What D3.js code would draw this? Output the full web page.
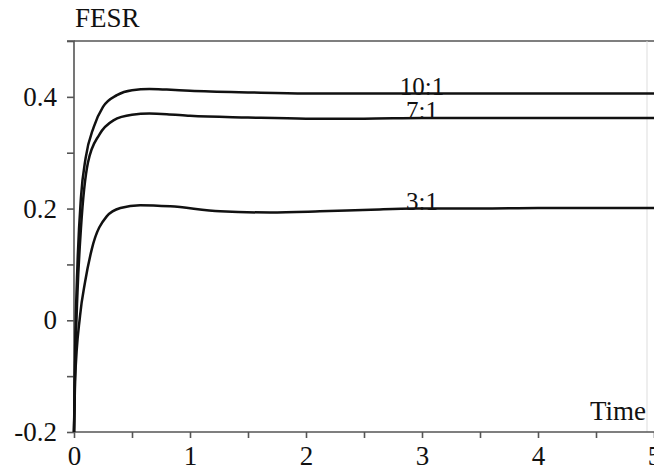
<!DOCTYPE html>
<html>
<head>
<meta charset="utf-8">
<script src="https://cdn.jsdelivr.net/npm/d3@7"></script>
<style>
  html, body { margin: 0; padding: 0; background: #fff; }
  svg { display: block; }
  svg text { font-family: "Liberation Serif", "Times New Roman", Times, "DejaVu Serif", serif !important; fill: #111; }
</style>
</head>
<body>
<svg id="chart" width="654" height="471"></svg>
<script>
// Response curves of FESR over time for three ratios
const seriesNames = ["10:1", "7:1", "3:1"];

const time10 = [0, 0.01, 0.03, 0.06, 0.1, 0.17, 0.25, 0.37, 0.5, 0.65, 0.8, 1.0, 1.5, 2, 2.5, 3, 4, 5];
const fesr10 = [-0.2, -0.05, 0.1, 0.22, 0.29, 0.346, 0.382, 0.403, 0.412, 0.414, 0.413, 0.411, 0.408, 0.406, 0.406, 0.406, 0.406, 0.406];

const time7 = [0, 0.01, 0.03, 0.06, 0.12, 0.22, 0.34, 0.5, 0.65, 0.8, 1.0, 1.5, 2, 2.5, 3, 4, 5];
const fesr7 = [-0.2, -0.08, 0.05, 0.165, 0.282, 0.333, 0.358, 0.368, 0.37, 0.369, 0.366, 0.363, 0.361, 0.361, 0.362, 0.362, 0.362];

const time3 = [0, 0.009, 0.052, 0.095, 0.153, 0.282, 0.4, 0.57, 0.83, 1.26, 1.69, 2.12, 2.56, 2.93, 3, 3.5, 4, 5];
const fesr3 = [-0.2, -0.11, 0.008, 0.068, 0.127, 0.186, 0.201, 0.206, 0.204, 0.195, 0.193, 0.195, 0.198, 0.2, 0.2, 0.2, 0.201, 0.201];

const xTicks = [0, 0.5, 1, 1.5, 2, 2.5, 3, 3.5, 4, 4.5, 5];
const xTickLabels = ["0", "", "1", "", "2", "", "3", "", "4", "", "5"];
const yTicks = [-0.2, -0.1, 0, 0.1, 0.2, 0.3, 0.4, 0.5];
const yTickLabels = ["-0.2", "", "0", "", "0.2", "", "0.4", ""];

const serif = '"Liberation Serif", "Times New Roman", Times, "DejaVu Serif", serif';
const svg = d3.select("#chart");
const plotLeft = 74, plotRight = 654, plotTop = 41, plotBottom = 432;

const x = d3.scaleLinear().domain([0, 5]).range([plotLeft, plotRight]);
const y = d3.scaleLinear().domain([-0.2, 0.5]).range([plotBottom, plotTop]);

const axisColor = "#555";

// frame: top edge and faint right edge
svg.append("line")
  .attr("x1", plotLeft).attr("x2", plotRight).attr("y1", plotTop).attr("y2", plotTop)
  .attr("stroke", axisColor).attr("stroke-width", 1.6);
svg.append("line")
  .attr("x1", 647).attr("x2", 647).attr("y1", plotTop).attr("y2", plotBottom)
  .attr("stroke", "#ddd").attr("stroke-width", 1);

// y axis
const yAxis = svg.append("g")
  .attr("transform", `translate(${plotLeft},0)`)
  .call(d3.axisLeft(y).tickValues(yTicks).tickSize(7).tickPadding(10)
    .tickFormat((d, i) => yTickLabels[i]));

// x axis
const xAxis = svg.append("g")
  .attr("transform", `translate(0,${plotBottom})`)
  .call(d3.axisBottom(x).tickValues(xTicks).tickSize(6).tickPadding(8)
    .tickFormat((d, i) => xTickLabels[i]));

[yAxis, xAxis].forEach(g => {
  g.attr("font-family", serif);
  g.select(".domain").attr("stroke", axisColor).attr("stroke-width", 1.6);
  g.selectAll(".tick line").attr("stroke", axisColor).attr("stroke-width", 1.6);
  g.selectAll(".tick text")
    .attr("font-family", serif)
    .style("font-size", "27px").attr("fill", "#111");
});
yAxis.select(".domain").attr("d", `M-7,${plotTop}H0V${plotBottom}`);
xAxis.select(".domain").attr("d", `M${plotLeft},0H${plotRight}`);

// axis titles
svg.append("text").attr("x", 75).attr("y", 27).attr("font-family", serif)
  .style("font-size", "27px").text("FESR");
svg.append("text").attr("x", 646).attr("y", 420).attr("text-anchor", "end")
  .attr("font-family", serif)
  .style("font-size", "27px").text("Time");

// curves
const line = d3.line().x(d => x(d[0])).y(d => y(d[1])).curve(d3.curveMonotoneX);
const series = [
  { name: seriesNames[0], t: time10, v: fesr10 },
  { name: seriesNames[1], t: time7, v: fesr7 },
  { name: seriesNames[2], t: time3, v: fesr3 }
];

series.forEach(s => {
  const pts = s.t.map((t, i) => [t, s.v[i]]);
  svg.append("path").datum(pts)
    .attr("d", line)
    .attr("fill", "none").attr("stroke", "#111").attr("stroke-width", 2.5)
    .attr("stroke-linejoin", "round");
  const at3 = s.v[s.t.indexOf(3)];
  svg.append("text")
    .attr("x", x(3)).attr("y", y(at3) + 1)
    .attr("text-anchor", "middle").attr("font-family", serif)
    .style("font-size", "25px").text(s.name);
});
</script>
</body>
</html>
